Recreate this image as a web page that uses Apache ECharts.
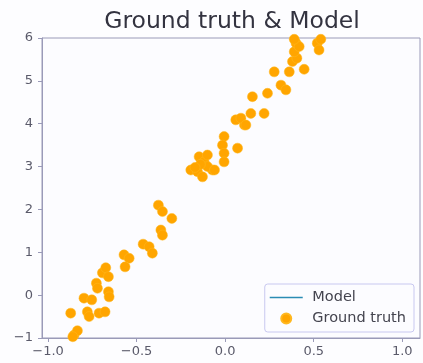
<!DOCTYPE html>
<html>
<head>
<meta charset="utf-8">
<script src="https://cdn.jsdelivr.net/npm/echarts@6/dist/echarts.min.js"></script>
<style>html,body{margin:0;padding:0;background:#fdfdff;}#c{width:423px;height:363px;}</style>
</head>
<body>
<div id="c"></div>
<script>
var title = 'Ground truth & Model';
var xTicks = [-1.0, -0.5, 0.0, 0.5, 1.0];
var yTicks = [-1, 0, 1, 2, 3, 4, 5, 6];
var modelX = [];
var modelY = [];
var truthX = [-0.872, -0.853, -0.834, -0.860, -0.797, -0.753, -0.778, -0.768, -0.727, -0.721,
  -0.712, -0.678, -0.693, -0.674, -0.659, -0.659, -0.655, -0.571, -0.542, -0.565,
  -0.463, -0.429, -0.411, -0.363, -0.354, -0.377, -0.354, -0.301,
  -0.194, -0.156, -0.147, -0.119, -0.100, -0.128, -0.072, -0.100, -0.140, -0.170,
  -0.006, -0.015, -0.006, -0.006, 0.070, -0.060, 0.109, 0.060, 0.089, 0.117,
  0.145, 0.220, 0.154, 0.239, 0.277, 0.315, 0.343, 0.362, 0.380, 0.405,
  0.390, 0.400, 0.418, 0.390, 0.446, 0.520, 0.530, 0.540];
var truthY = [-0.42, -0.93, -0.83, -0.97, -0.07, -0.11, -0.39, -0.50, 0.28, 0.16,
  -0.42, -0.39, 0.52, 0.64, 0.43, 0.08, -0.04, 0.94, 0.86, 0.66,
  1.19, 1.13, 0.98, 1.52, 1.40, 2.10, 1.95, 1.79,
  2.92, 2.88, 3.23, 3.11, 3.27, 2.76, 2.92, 3.00, 3.05, 2.98,
  3.70, 3.50, 3.31, 3.11, 3.43, 2.92, 3.97, 4.09, 4.13, 3.97,
  4.24, 4.24, 4.63, 4.71, 5.21, 4.90, 4.79, 5.21, 5.45, 5.53,
  5.68, 5.88, 5.80, 5.97, 5.27, 5.88, 5.72, 5.97];

var truth = truthX.map(function (x, i) { return [x, truthY[i]]; });
var model = modelX.map(function (x, i) { return [x, modelY[i]]; });

var axisCol = '#9a9ab8';
var labelCol = '#5a5a6a';
function fmt(v) {
  return String(v).replace('-', '\u2212');
}
var chart = echarts.init(document.getElementById('c'), null, { renderer: 'canvas' });
chart.setOption({
  backgroundColor: '#fdfdff',
  animation: false,
  title: {
    text: title, left: 227, top: 5, textAlign: 'center',
    textStyle: { fontFamily: 'DejaVu Sans', fontSize: 23.5, fontWeight: 'normal', color: '#333340' }
  },
  grid: { left: 42, right: 3, top: 38, bottom: 25, show: true, borderColor: axisCol, borderWidth: 1, backgroundColor: '#fcfcff' },
  xAxis: {
    type: 'value', min: -1.034, max: 1.10,
    axisLine: { show: true, onZero: false, lineStyle: { color: axisCol } },
    axisTick: { show: true, length: 4, lineStyle: { color: axisCol }, customValues: xTicks },
    axisLabel: { customValues: xTicks, color: labelCol, fontFamily: 'DejaVu Sans', fontSize: 13, margin: 7,
      formatter: function (v) { return fmt(v.toFixed(1)); } },
    splitLine: { show: false }
  },
  yAxis: {
    type: 'value', min: -1, max: 6, interval: 1,
    axisLine: { show: true, onZero: false, lineStyle: { color: axisCol } },
    axisTick: { show: true, length: 4, lineStyle: { color: axisCol } },
    axisLabel: { color: labelCol, fontFamily: 'DejaVu Sans', fontSize: 13, margin: 9,
      formatter: function (v) { return fmt(v); } },
    splitLine: { show: false }
  },
  legend: {
    orient: 'vertical', right: 9, bottom: 31,
    data: [{ name: 'Model', icon: 'path://M0,0L32,0L32,1.6L0,1.6Z' }, { name: 'Ground truth', icon: 'circle' }],
    formatter: function (n) { return ' ' + n; },
    itemWidth: 33, itemHeight: 10, itemGap: 6,
    padding: [6, 8, 6, 5],
    borderColor: '#c8c8f0', borderWidth: 1, borderRadius: 3,
    backgroundColor: '#fcfcff',
    textStyle: { fontFamily: 'DejaVu Sans', fontSize: 14.5, color: '#44444f' }
  },
  series: [
    { name: 'Model', type: 'line', data: model, showSymbol: false, color: '#2a8cb4', lineStyle: { width: 1.6 } },
    { name: 'Ground truth', type: 'scatter', data: truth, symbolSize: 10, color: '#ffa500',
      itemStyle: { color: '#ffa500', opacity: 1, borderColor: '#ffb820', borderWidth: 0.5 } }
  ]
});
</script>
</body>
</html>
